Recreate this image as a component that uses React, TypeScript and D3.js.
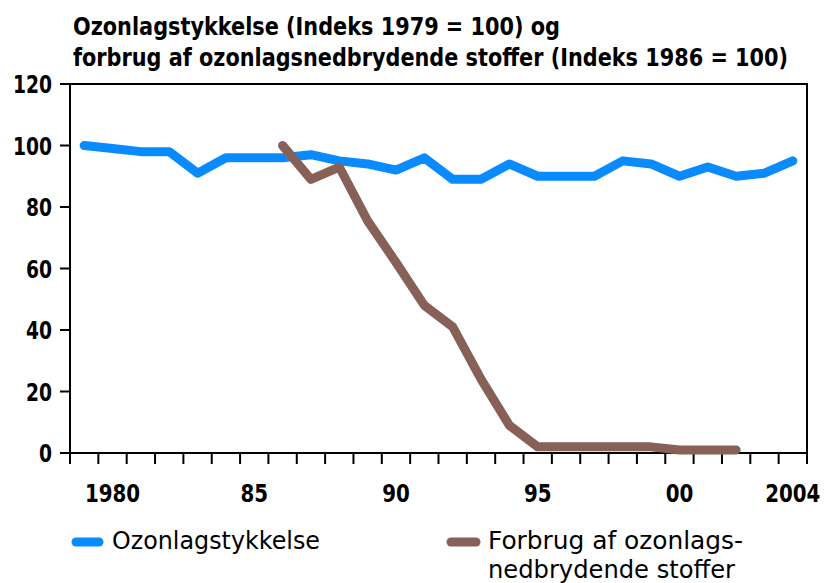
import React from "react";
import * as d3 from "d3";

// Data
const years: number[] = d3.range(1979, 2005);
const ozone: number[] = [
    100, 99, 98, 98, 91, 96, 96, 96, 97, 95, 94, 92, 96,
    89, 89, 94, 90, 90, 90, 95, 94, 90, 93, 90, 91, 95,
];
const consumptionYears: number[] = d3.range(1986, 2003);
const consumption: number[] = [
    100, 89, 93, 75.5, 62, 48, 41, 24, 9, 2, 2, 2, 2, 2, 1, 1, 1,
];
const yTicks: number[] = [0, 20, 40, 60, 80, 100, 120];
const xLabels: { year: number; label: string }[] = [
    { year: 1980, label: "1980" },
    { year: 1985, label: "85" },
    { year: 1990, label: "90" },
    { year: 1995, label: "95" },
    { year: 2000, label: "00" },
    { year: 2004, label: "2004" },
];
const titleLines: string[] = [
    "Ozonlagstykkelse (Indeks 1979 = 100) og",
    "forbrug af ozonlagsnedbrydende stoffer (Indeks 1986 = 100)",
];

const App: React.FC = () => {
    const width = 824;
    const height = 583;
    const marginLeft = 70;
    const plotRight = 807;
    const marginTop = 84;
    const plotBottom = 453;
    const font = "'DejaVu Sans', Arial, sans-serif";

    const blue = "#0a8aff";
    const brown = "#876058";

    const xScale = d3.scaleBand<number>()
        .domain(years)
        .range([marginLeft, plotRight])
        .padding(0);

    const yScale = d3.scaleLinear()
        .domain([0, 120])
        .range([plotBottom, marginTop]);

    const cx = (yr: number) => xScale(yr)! + xScale.bandwidth() / 2;

    const line = d3.line<[number, number]>()
        .x(d => cx(d[0]))
        .y(d => yScale(d[1]));

    const ozonePath = line(years.map((yr, i) => [yr, ozone[i]]))!;
    const consumptionPath = line(consumptionYears.map((yr, i) => [yr, consumption[i]]))!;

    const bounds = [...years.map(yr => xScale(yr)!), plotRight];
    const titleWidths = [487, 715];

    return (
        <svg width={width} height={height} style={{ position: "absolute", left: 0, top: 0, fontFamily: font }}>
            {/* Title */}
            {titleLines.map((t, i) => (
                <text key={i} x={73} y={35 + i * 31} fontSize={25} fontWeight="bold" fontStretch="condensed"
                    textLength={titleWidths[i]} lengthAdjust="spacingAndGlyphs" fill="#000">
                    {t}
                </text>
            ))}

            {/* Frame */}
            <rect x={marginLeft} y={marginTop} width={plotRight - marginLeft} height={plotBottom - marginTop}
                fill="none" stroke="#000" strokeWidth={2} />

            {/* Y ticks */}
            {yTicks.map(t => (
                <g key={t}>
                    <line x1={marginLeft - 10} x2={marginLeft} y1={yScale(t)} y2={yScale(t)} stroke="#000" strokeWidth={2} />
                    <text x={52} y={yScale(t)} dy="0.36em" textAnchor="end" fontSize={25} fontWeight="bold"
                        fontStretch="condensed" textLength={String(t).length * 13} lengthAdjust="spacingAndGlyphs">
                        {t}
                    </text>
                </g>
            ))}

            {/* X ticks */}
            {bounds.map((b, i) => (
                <line key={i} x1={b} x2={b} y1={plotBottom} y2={plotBottom + 11} stroke="#000" strokeWidth={2} />
            ))}
            {xLabels.map(d => (
                <text key={d.year} x={cx(d.year)} y={502} textAnchor="middle" fontSize={25} fontWeight="bold"
                    fontStretch="condensed" textLength={d.label.length * 13.8} lengthAdjust="spacingAndGlyphs">
                    {d.label}
                </text>
            ))}

            {/* Lines */}
            <path d={ozonePath} fill="none" stroke={blue} strokeWidth={9} strokeLinecap="round" strokeLinejoin="round" />
            <path d={consumptionPath} fill="none" stroke={brown} strokeWidth={9} strokeLinecap="round" strokeLinejoin="round" />

            {/* Legend */}
            <line x1={76} x2={99} y1={542} y2={542} stroke={blue} strokeWidth={9} strokeLinecap="round" />
            <text x={112} y={549} fontSize={24} textLength={208} lengthAdjust="spacingAndGlyphs">Ozonlagstykkelse</text>
            <line x1={451} x2={476} y1={542} y2={542} stroke={brown} strokeWidth={9} strokeLinecap="round" />
            <text x={488} y={549} fontSize={24} textLength={255} lengthAdjust="spacingAndGlyphs">Forbrug af ozonlags-</text>
            <text x={488} y={578} fontSize={24} textLength={247} lengthAdjust="spacingAndGlyphs">nedbrydende stoffer</text>
        </svg>
    );
};

export default App;
